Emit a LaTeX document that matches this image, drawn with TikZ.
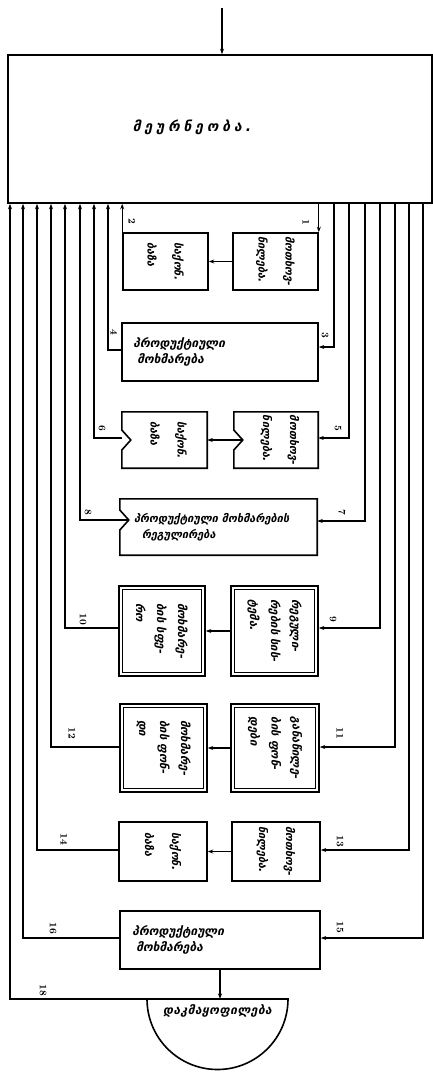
\documentclass[tikz,border=0pt]{standalone}
\usepackage{fontspec}
\newfontfamily\geo{DejaVu Sans}
\usetikzlibrary{arrows.meta,calc}
\tikzset{
  box/.style={draw, line width=1.6pt, inner sep=0pt},
  ghost/.style={inner sep=0pt},
  boxline/.style={line width=1.6pt, line join=miter},
  inner/.style={line width=0.7pt},
  gtext/.style={font=\geo\bfseries\itshape\fontsize{12}{16}\selectfont, inner sep=0pt},
  vtext/.style={rotate=-90, align=left, font=\geo\bfseries\itshape\fontsize{11}{27}\selectfont, inner sep=0pt},
  vtextiii/.style={rotate=-90, align=left, font=\geo\bfseries\itshape\fontsize{11.5}{21}\selectfont, inner sep=0pt},
  num/.style={rotate=-90, font=\bfseries\fontsize{10}{10}\selectfont, inner sep=0pt},
  arr/.style={-{Stealth[length=5.5pt,width=4pt]}, line width=1.1pt},
}
\begin{document}
\begin{tikzpicture}[x=1pt,y=1pt]
\useasboundingbox (0,0) rectangle (433,-1072);
% main box
\node[box, minimum width=424, minimum height=148] (top) at (220,-129) {};
\node[gtext, font=\geo\bfseries\itshape\fontsize{14}{16}\selectfont] (toptxt) at (192,-127) {\addfontfeature{LetterSpace=28}მეურნეობა.};
\coordinate (in) at (222,-8);
\draw[arr] (in) -- (in |- top.north);

% row 1
\node[box, minimum width=85, minimum height=57] (b1) at (275.5,-261.5) {};
\node[box, minimum width=85, minimum height=57] (b2) at (165.5,-261.5) {};
\node[vtext] (t1) at (b1) {მოთხოვ-\\ნილება.};
\node[vtext] (t2) at (b2) {საქონ.\\ბაზა};
\draw[arr] (b1.west) -- (b2.east);

% row 2
\node[box, minimum width=196, minimum height=58] (b3) at (220,-352) {};
\node[gtext, align=left, anchor=west] (t3) at ($(b3.west)+(12,0)$) {პროდუქტიული\\\hspace{4pt}მოხმარება};

% row 3 (notched)
\node[ghost, minimum width=84, minimum height=56] (b5) at (276,-440) {};
\node[ghost, minimum width=85, minimum height=56] (b6) at (164.5,-440) {};
\draw[boxline] (b5.north west) -- (b5.north east) -- (b5.south east) -- (b5.south west) -- ($(b5.west)+(0,-10)$) -- ($(b5.west)+(9,0)$) -- ($(b5.west)+(0,10)$) -- cycle;
\draw[boxline] (b6.north west) -- (b6.north east) -- (b6.south east) -- (b6.south west) -- ($(b6.west)+(0,-10)$) -- ($(b6.west)+(9,0)$) -- ($(b6.west)+(0,10)$) -- cycle;
\node[vtext] (t5) at ($(b5)+(4,0)$) {მოთხოვ-\\ნილება.};
\node[vtext] (t6) at ($(b6)+(4,0)$) {საქონ.\\ბაზა};
\draw[arr] ($(b5.west)+(9,0)$) -- (b6.east);

% row 4 (wide notched)
\node[ghost, minimum width=197, minimum height=56] (b7) at (218.5,-527) {};
\draw[boxline] (b7.north west) -- (b7.north east) -- (b7.south east) -- (b7.south west) -- ($(b7.west)+(0,-3)$) -- ($(b7.west)+(9,7)$) -- ($(b7.west)+(0,17)$) -- cycle;
\node[gtext, font=\geo\bfseries\itshape\fontsize{11}{16}\selectfont, align=left, anchor=west] (t7) at ($(b7.west)+(14,0)$) {პროდუქტიული მოხმარების\\\hspace{8pt}რეგულირება};

% row 5 (double)
\node[box, minimum width=87, minimum height=90] (b9) at (274.5,-631) {};
\node[box, minimum width=86, minimum height=90] (b10) at (162,-631) {};
\draw[inner] ($(b9.north west)+(4,-4)$) rectangle ($(b9.south east)+(-4,4)$);
\draw[inner] ($(b10.north west)+(4,-4)$) rectangle ($(b10.south east)+(-4,4)$);
\node[vtextiii] (t9) at (b9) {რეგული-\\რების სის-\\ტემა.};
\node[vtextiii] (t10) at (b10) {მოხმარე-\\ბის სფე-\\რო};
\draw[arr] (b9.west) -- (b10.east);

% row 6 (double)
\node[box, minimum width=88, minimum height=88] (b11) at (275,-748) {};
\node[box, minimum width=87, minimum height=88] (b12) at (163.5,-748) {};
\draw[inner] ($(b11.north west)+(4,-4)$) rectangle ($(b11.south east)+(-4,4)$);
\draw[inner] ($(b12.north west)+(4,-4)$) rectangle ($(b12.south east)+(-4,4)$);
\node[vtextiii] (t11) at (b11) {განაწილე-\\ბის ფონ-\\დები};
\node[vtextiii] (t12) at (b12) {მოხმარე-\\ბის ფონ-\\დი};
\draw[arr] (b11.west) -- (b12.east);

% row 7
\node[box, minimum width=88, minimum height=59] (b13) at (276,-851.5) {};
\node[box, minimum width=88, minimum height=59] (b14) at (163,-851.5) {};
\node[vtext] (t13) at (b13) {მოთხოვ-\\ნილება.};
\node[vtext] (t14) at (b14) {საქონ.\\ბაზა};
\draw[arr] (b13.west) -- (b14.east);

% row 8
\node[box, minimum width=200, minimum height=58] (b15) at (220,-940) {};
\node[gtext, align=left, anchor=west] (t15) at ($(b15.west)+(13,0)$) {პროდუქტიული\\\hspace{4pt}მოხმარება};

% semicircle
\coordinate (sL) at (147,-999);
\coordinate (sR) at (288,-999);
\draw[boxline] (sL) -- (sR) arc[start angle=0, end angle=-180, radius=70.5] -- cycle;
\node[gtext, font=\geo\bfseries\itshape\fontsize{12}{14}\selectfont] (semitxt) at (217.5,-1011) {\addfontfeature{LetterSpace=4}დაკმაყოფილება};
\draw[arr] (b15.south) -- (b15.south |- sL);

% right feed lines
\draw[arr] (b1.north east |- top.south) -- (b1.north east);
\coordinate (c3) at (334,-347);
\coordinate (c5) at (349,-438);
\coordinate (c7) at (365,-521);
\coordinate (c9) at (380,-628);
\coordinate (c11) at (395,-747);
\coordinate (c13) at (409,-850);
\coordinate (c15) at (423,-938);
\draw[arr] (c3 |- top.south) -- (c3) -- (c3 -| b3.east);
\draw[arr] (c5 |- top.south) -- (c5) -- (c5 -| b5.east);
\draw[arr] (c7 |- top.south) -- (c7) -- (c7 -| b7.east);
\draw[arr] (c9 |- top.south) -- (c9) -- (c9 -| b9.east);
\draw[arr] (c11 |- top.south) -- (c11) -- (c11 -| b11.east);
\draw[arr] (c13 |- top.south) -- (c13) -- (c13 -| b13.east);
\draw[arr] (c15 |- top.south) -- (c15) -- (c15 -| b15.east);

% left return lines
\draw[arr] (b2.north west) -- (b2.north west |- top.south);
\coordinate (c4) at (108,-350);
\coordinate (c6) at (94,-438);
\coordinate (c8) at (80,-520);
\coordinate (c10) at (65,-628);
\coordinate (c12) at (51,-747);
\coordinate (c14) at (37,-850);
\coordinate (c16) at (23,-938);
\coordinate (c18) at (10,-999);
\draw[arr] (c4 -| b3.west) -- (c4) -- (c4 |- top.south);
\draw[arr] (c6 -| b6.west) -- (c6) -- (c6 |- top.south);
\draw[arr] ($(b7.west)+(9,7)$) -- (c8) -- (c8 |- top.south);
\draw[arr] (c10 -| b10.west) -- (c10) -- (c10 |- top.south);
\draw[arr] (c12 -| b12.west) -- (c12) -- (c12 |- top.south);
\draw[arr] (c14 -| b14.west) -- (c14) -- (c14 |- top.south);
\draw[arr] (c16 -| b15.west) -- (c16) -- (c16 |- top.south);
\draw[arr] (sL) -- (c18) -- (c18 |- top.south);

% numbers
\node[num] (n1) at (306,-222) {1};
\node[num] (n2) at (132,-221) {2};
\node[num] (n3) at (325,-335) {3};
\node[num] (n4) at (114,-332) {4};
\node[num] (n5) at (338,-428) {5};
\node[num] (n6) at (102,-428) {6};
\node[num] (n7) at (342,-512) {7};
\node[num] (n8) at (88,-512) {8};
\node[num] (n9) at (333,-619) {9};
\node[num] (n10) at (83,-619) {10};
\node[num] (n11) at (340,-733) {11};
\node[num] (n12) at (72,-733) {12};
\node[num] (n13) at (340,-841) {13};
\node[num] (n14) at (64,-839) {14};
\node[num] (n15) at (340,-927) {15};
\node[num] (n16) at (53,-928) {16};
\node[num] (n18) at (43,-990) {18};
\end{tikzpicture}
\end{document}
